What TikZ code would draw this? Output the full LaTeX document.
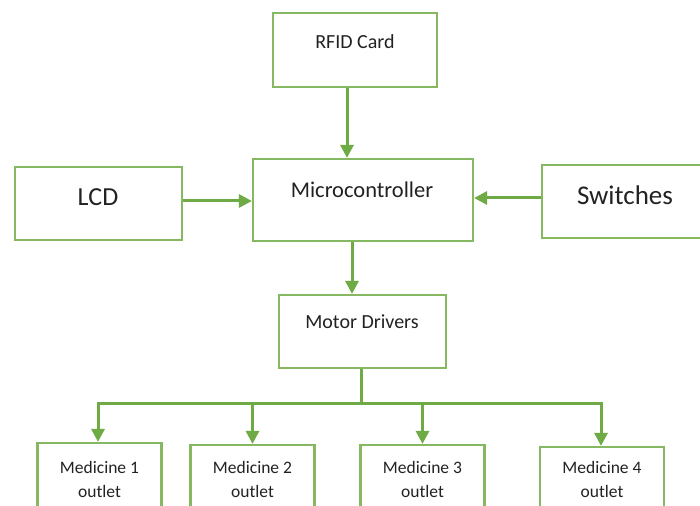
\documentclass[tikz,border=0pt]{standalone}
\usepackage{fontspec}
\setmainfont{Carlito}
\usetikzlibrary{arrows.meta}
\definecolor{boxgreen}{HTML}{86B862}
\definecolor{arrgreen}{HTML}{6EAB45}
\definecolor{txt}{HTML}{222222}
\tikzset{
  box/.style={draw=boxgreen, line width=2.2bp, fill=white, rectangle, inner sep=0pt},
  lbl/.style={text=txt, inner sep=0pt},
  conn/.style={draw=arrgreen, line width=3bp},
  arr/.style={conn, -{Triangle[width=13bp,length=13bp]}},
}
\begin{document}
\begin{tikzpicture}[x=1bp,y=-1bp]
\useasboundingbox[fill=white] (0,0) rectangle (700,506);
% boxes
\node[box, minimum width=164bp, minimum height=74bp] (rfid) at (355,50) {};
\node[box, minimum width=167bp, minimum height=73bp] (lcd) at (98.5,203.5) {};
\node[box, minimum width=220bp, minimum height=82bp] (micro) at (363,200) {};
\node[box, minimum width=170bp, minimum height=73bp] (sw) at (627,201.5) {};
\node[box, minimum width=167bp, minimum height=73bp] (motor) at (362.5,331.5) {};
% labels
\node[lbl, font=\fontsize{20bp}{24bp}\selectfont] (rfidt) at (355,42) {RFID Card};
\node[lbl, font=\fontsize{26bp}{30bp}\selectfont] (lcdt) at (98,197) {LCD};
\node[lbl, font=\fontsize{22.5bp}{27bp}\selectfont] (microt) at (362,190) {Microcontroller};
\node[lbl, font=\fontsize{27bp}{32bp}\selectfont] (swt) at (625,195) {Switches};
\node[lbl, font=\fontsize{20bp}{24bp}\selectfont] (motort) at (362,322) {Motor Drivers};
% medicine outlets (bottom edges run past the picture's lower edge)
\tikzset{med/.style={box, minimum width=124bp, align=center, text=txt, font=\fontsize{17.5bp}{24bp}\selectfont}}
\node[med, minimum height=72bp] (m1) at (99.5,479) {Medicine 1\\outlet};
\node[med, minimum height=68bp] (m2) at (252.5,479) {Medicine 2\\outlet};
\node[med, minimum height=68bp] (m3) at (422.5,479) {Medicine 3\\outlet};
\node[med, minimum height=64bp] (m4) at (602,479) {Medicine 4\\outlet};
% connectors
\draw[arr] ([xshift=-8bp]rfid.south) -- ([xshift=-8bp]rfid.south |- micro.north);
\draw[arr] (lcd.east |- 0,201) -- (micro.west |- 0,201);
\draw[arr] (sw.west |- 0,198) -- (micro.east |- 0,198);
\draw[arr] ([xshift=-11bp]micro.south) -- ([xshift=-11bp]micro.south |- motor.north);
\coordinate (busL) at (98,403);
\coordinate (busR) at (601,403);
\draw[conn] ([xshift=-1.5bp]motor.south) -- ([xshift=-1.5bp]motor.south |- busL);
\draw[conn, line cap=rect] (busL) -- (busR);
\draw[arr] (busL) -- (busL |- m1.north);
\draw[arr] (m2.north |- busL) -- (m2.north);
\draw[arr] (m3.north |- busL) -- (m3.north);
\draw[arr] (busR) -- (busR |- m4.north);
\end{tikzpicture}
\end{document}
